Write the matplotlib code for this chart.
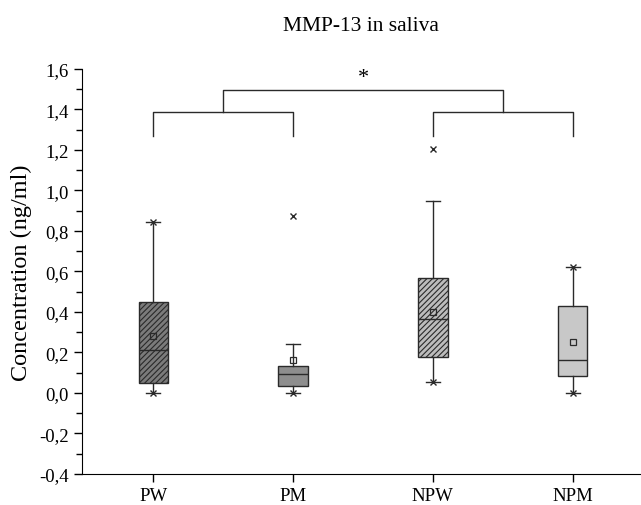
import matplotlib.pyplot as plt
from matplotlib.ticker import MultipleLocator

plt.rcParams['font.family'] = ['Liberation Serif', 'DejaVu Serif']
plt.rcParams['hatch.linewidth'] = 0.8

# box statistics (ng/ml)
groups = ['PW', 'PM', 'NPW', 'NPM']
q1 = [0.05, 0.035, 0.178, 0.084]
median = [0.21, 0.094, 0.365, 0.163]
q3 = [0.45, 0.133, 0.568, 0.43]
mean = [0.28, 0.163, 0.40, 0.252]
whislo = [0.0, 0.0, 0.054, 0.0]
whishi = [0.845, 0.242, 0.95, 0.62]
outliers = [[], [0.875], [1.205], []]
# whisker ends that carry a cross marker
cross_lo = [True, True, True, True]
cross_hi = [True, False, False, True]

fills = ['#7b7b7b', '#8e8e8e', '#bcbcbc', '#c8c8c8']
hatches = ['//////', '', '//////', '']

fig = plt.figure(figsize=(6.41, 5.06), dpi=100)
ax = fig.add_axes([0.128, 0.0613, 0.87, 0.8004])

pos = list(range(1, len(groups) + 1))
stats = []
for i, g in enumerate(groups):
    stats.append(dict(label=g, q1=q1[i], med=median[i], q3=q3[i], mean=mean[i],
                      whislo=whislo[i], whishi=whishi[i], fliers=outliers[i]))

bp = ax.bxp(stats, positions=pos, widths=0.21, patch_artist=True, showmeans=True,
            showfliers=False,
            boxprops=dict(edgecolor='#2a2a2a', linewidth=1.0),
            medianprops=dict(color='#2a2a2a', linewidth=1.0),
            whiskerprops=dict(color='#2a2a2a', linewidth=1.0),
            capprops=dict(color='#2a2a2a', linewidth=1.0),
            meanprops=dict(marker='s', markersize=5, markerfacecolor='none',
                           markeredgecolor='#2a2a2a', markeredgewidth=0.9),
            capwidths=0.1)
for patch, fc, h in zip(bp['boxes'], fills, hatches):
    patch.set_facecolor(fc)
    patch.set_hatch(h)

for i, p in enumerate(pos):
    if cross_lo[i]:
        ax.plot(p, whislo[i], marker='x', ms=5, mew=1.0, color='#2a2a2a', zorder=4)
    if cross_hi[i]:
        ax.plot(p, whishi[i], marker='x', ms=5, mew=1.0, color='#2a2a2a', zorder=4)
    for o in outliers[i]:
        ax.plot(p, o, marker='x', ms=5, mew=1.0, color='#2a2a2a', zorder=4)

# significance brackets
lc = '#2a2a2a'
y_leg, y_low, y_top = 1.27, 1.39, 1.495
for a, b in [(1, 2), (3, 4)]:
    ax.plot([a, a, b, b], [y_leg, y_low, y_low, y_leg], color=lc, lw=1.0)
ax.plot([1.5, 1.5, 3.5, 3.5], [y_low, y_top, y_top, y_low], color=lc, lw=1.0)
ax.text(2.5, 1.56, '*', ha='center', va='center', fontsize=16)

ax.set_xlim(0.49, 4.48)
ax.set_ylim(-0.4, 1.6)
ax.set_xticks(pos)
ax.set_xticklabels(groups)
ax.yaxis.set_major_locator(MultipleLocator(0.2))
ax.yaxis.set_minor_locator(MultipleLocator(0.1))
ax.yaxis.set_major_formatter(plt.FuncFormatter(lambda v, _: f'{v:.1f}'.replace('.', ',')))
ax.tick_params(axis='both', direction='out', labelsize=13.5, length=6, width=1.0)
ax.tick_params(axis='y', which='minor', direction='out', length=4, width=1.0)
ax.spines['top'].set_visible(False)
ax.spines['right'].set_visible(False)
ax.set_ylabel('Concentration (ng/ml)', fontsize=17.5, labelpad=5)
ax.set_title('MMP-13 in saliva', fontsize=15.5, pad=28)

fig.savefig('out.png', dpi=100)
